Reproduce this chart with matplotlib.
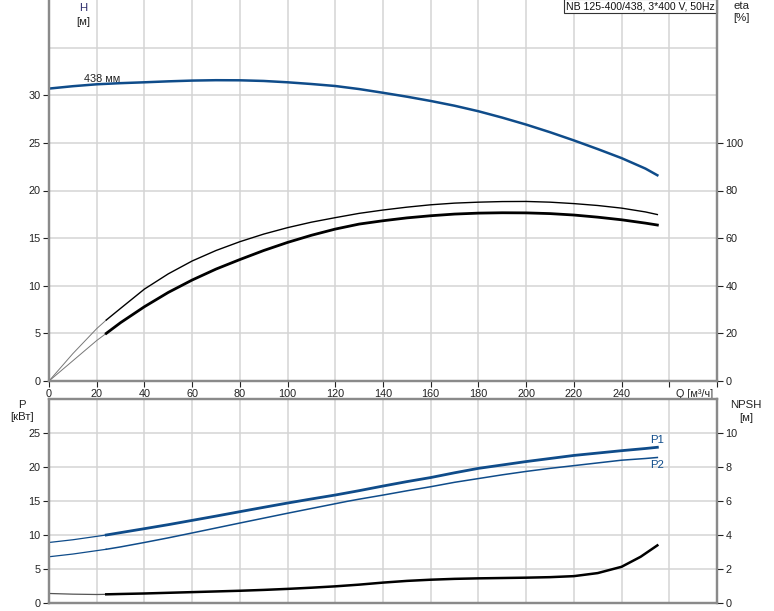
import numpy as np
import matplotlib
matplotlib.use("Agg")
import matplotlib.pyplot as plt

plt.rcParams["font.family"] = ["Liberation Sans", "DejaVu Sans"]

# ---------- data -----------------------------------------------------------
Q_H = [0, 10, 20, 30, 40, 50, 60, 70, 80, 90, 100, 110, 120, 130, 140, 150,
       160, 170, 180, 190, 200, 210, 220, 230, 240, 250, 255]
H = [30.7, 30.95, 31.15, 31.27, 31.36, 31.46, 31.54, 31.58, 31.57, 31.5,
     31.36, 31.18, 30.97, 30.65, 30.26, 29.85, 29.4, 28.9, 28.32, 27.65,
     26.92, 26.12, 25.26, 24.35, 23.4, 22.3, 21.6]

Q_ETA = [0, 10, 20, 24, 30, 40, 50, 60, 70, 80, 90, 100, 110, 120, 130, 140,
         150, 160, 170, 180, 190, 200, 210, 220, 230, 240, 250, 255]
ETA_UP = [0, 11.5, 22.0, 25.6, 30.5, 38.6, 45.0, 50.4, 54.8, 58.5, 61.7, 64.4,
          66.7, 68.6, 70.4, 71.8, 73.0, 74.0, 74.7, 75.1, 75.35, 75.4, 75.1,
          74.5, 73.7, 72.6, 71.0, 69.9]
ETA_LO = [0, 8.5, 17.0, 20.0, 24.5, 31.2, 37.2, 42.4, 47.0, 51.0, 54.8, 58.2,
          61.2, 63.8, 65.9, 67.3, 68.5, 69.4, 70.1, 70.5, 70.65, 70.6, 70.3,
          69.7, 68.8, 67.7, 66.3, 65.5]

Q_P = [0, 10, 20, 24, 30, 40, 50, 60, 70, 80, 90, 100, 110, 120, 125, 130,
       140, 150, 160, 170, 180, 190, 200, 210, 220, 230, 240, 250, 255]
P1 = [8.9, 9.3, 9.8, 10.0, 10.35, 10.93, 11.52, 12.15, 12.78, 13.43, 14.07,
      14.7, 15.3, 15.88, 16.2, 16.52, 17.2, 17.85, 18.45, 19.15, 19.8, 20.3,
      20.8, 21.25, 21.7, 22.05, 22.4, 22.72, 22.9]
P2 = [6.8, 7.2, 7.7, 7.9, 8.25, 8.9, 9.58, 10.3, 11.03, 11.76, 12.48, 13.2,
      13.9, 14.6, 14.95, 15.27, 15.87, 16.5, 17.1, 17.75, 18.3, 18.85, 19.35,
      19.8, 20.2, 20.6, 21.0, 21.25, 21.4]

Q_NPSH = [0, 10, 20, 24, 30, 40, 50, 60, 70, 80, 90, 100, 110, 120, 130, 140,
          150, 160, 170, 180, 190, 200, 210, 220, 230, 240, 248, 255]
NPSH = [0.56, 0.52, 0.5, 0.51, 0.53, 0.56, 0.6, 0.64, 0.68, 0.72, 0.77, 0.83,
        0.9, 0.98, 1.08, 1.2, 1.3, 1.37, 1.42, 1.45, 1.47, 1.49, 1.52, 1.58,
        1.76, 2.13, 2.72, 3.39]

Q_MIN = 24  # start of the allowed operating range (thin part before)

BLUE = "#0f4c8a"
GRID = "#d4d4d4"
SPINE = "#8a8a8a"
TXT = "#222222"
FS = 7.8


def split(q, v, qmin):
    q = np.asarray(q, float); v = np.asarray(v, float)
    a = q <= qmin; b = q >= qmin
    return (q[a], v[a]), (q[b], v[b])


def style(ax, axr):
    for a in (ax, axr):
        for s in a.spines.values():
            s.set_color(SPINE)
            s.set_linewidth(1.6)
        a.tick_params(colors=TXT, labelsize=FS, length=4, width=0.8, pad=2)
    ax.set_xticks(np.arange(0, 281, 20))
    ax.grid(True, color=GRID, lw=1.1)
    ax.set_axisbelow(True)
    ax.set_xlim(0, 280)


fig = plt.figure(figsize=(7.74, 6.11), dpi=100)
W, Hh = 774.0, 611.0
x0, x1 = 49 / W, 717 / W

# ---------- top: H and eta ---------------------------------------------------
ax1 = fig.add_axes([x0, 1 - 381 / Hh, x1 - x0, 381 / Hh])
ax1r = ax1.twinx()
style(ax1, ax1r)
ax1.spines["top"].set_visible(False)
ax1r.spines["top"].set_visible(False)
ax1.set_ylim(0, 40)
ax1.set_yticks(np.arange(0, 36, 5))
ax1.set_yticklabels([str(v) if v <= 30 else "" for v in range(0, 36, 5)])
ax1r.set_ylim(0, 160)
ax1r.set_yticks(np.arange(0, 101, 20))
ax1.set_xticklabels([str(v) if v <= 240 else "" for v in range(0, 281, 20)])
ax1.yaxis.get_major_ticks()[-1].tick1line.set_visible(False)

ax1.plot(Q_H, H, color=BLUE, lw=1.8)
ax1.text(14.5, 31.2, "438 мм", fontsize=FS, color=TXT, va="bottom")

(a_q, a_v), (b_q, b_v) = split(Q_ETA, ETA_UP, Q_MIN)
ax1r.plot(a_q, a_v, color="#777777", lw=0.7)
ax1r.plot(b_q, b_v, color="black", lw=1.0)
(a_q, a_v), (b_q, b_v) = split(Q_ETA, ETA_LO, Q_MIN)
ax1r.plot(a_q, a_v, color="#777777", lw=0.7)
ax1r.plot(b_q, b_v, color="black", lw=2.0)

ax1.text(278.5, -0.8, "Q [м³/ч]", fontsize=FS, ha="right", va="top", color=TXT)

fig.text(83 / W, 1 - 8 / Hh, "H", fontsize=FS + 0.4, ha="center", va="center",
         color="#2b2b6b")
fig.text(83 / W, 1 - 22 / Hh, "[м]", fontsize=FS + 0.4, ha="center",
         va="center", color=TXT)
fig.text(741 / W, 1 - 6 / Hh, "eta", fontsize=FS + 0.4, ha="center",
         va="center", color=TXT)
fig.text(741 / W, 1 - 18 / Hh, "[%]", fontsize=FS + 0.4, ha="center",
         va="center", color=TXT)
ax1.text(0.997, 0.997, "NB 125-400/438, 3*400 V, 50Hz", transform=ax1.transAxes,
         fontsize=FS - 0.2, ha="right", va="top", color="#111111",
         bbox=dict(facecolor="white", edgecolor="#333333", lw=0.8,
                   boxstyle="square,pad=0.2"))

# ---------- bottom: P and NPSH ----------------------------------------------
ax2 = fig.add_axes([x0, 1 - 603 / Hh, x1 - x0, (603 - 399) / Hh])
ax2r = ax2.twinx()
style(ax2, ax2r)
ax2.set_ylim(0, 30)
ax2.set_yticks(np.arange(0, 26, 5))
ax2r.set_ylim(0, 12)
ax2r.set_yticks(np.arange(0, 11, 2))
ax2.tick_params(axis="x", length=0, labelbottom=False)

(a_q, a_v), (b_q, b_v) = split(Q_P, P1, Q_MIN)
ax2.plot(a_q, a_v, color=BLUE, lw=0.9)
ax2.plot(b_q, b_v, color=BLUE, lw=2.0)
(a_q, a_v), (b_q, b_v) = split(Q_P, P2, Q_MIN)
ax2.plot(a_q, a_v, color=BLUE, lw=0.9)
ax2.plot(b_q, b_v, color=BLUE, lw=1.1)
ax2.text(Q_P[-1] - 3, P1[-1] + 0.4, "P1", fontsize=FS + 0.4, color=BLUE,
         va="bottom")
ax2.text(Q_P[-1] - 3, P2[-1] - 0.4, "P2", fontsize=FS + 0.4, color=BLUE,
         va="top")

(a_q, a_v), (b_q, b_v) = split(Q_NPSH, NPSH, Q_MIN)
ax2r.plot(a_q, a_v, color="#555555", lw=0.9)
ax2r.plot(b_q, b_v, color="black", lw=1.8)

fig.text(22 / W, 1 - 405 / Hh, "P", fontsize=FS + 0.4, ha="center",
         va="center", color=TXT)
fig.text(22 / W, 1 - 417 / Hh, "[кВт]", fontsize=FS + 0.4, ha="center",
         va="center", color=TXT)
fig.text(746 / W, 1 - 405 / Hh, "NPSH", fontsize=FS + 0.4, ha="center",
         va="center", color=TXT)
fig.text(746 / W, 1 - 418 / Hh, "[м]", fontsize=FS + 0.4, ha="center",
         va="center", color=TXT)

fig.savefig("out.png", dpi=100)
